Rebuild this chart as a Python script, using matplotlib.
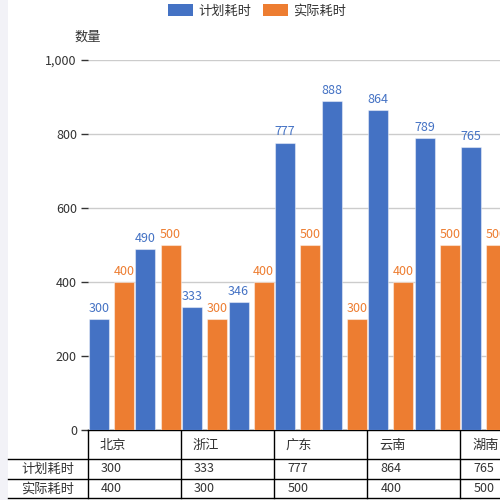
import matplotlib
matplotlib.use("Agg")
import matplotlib.pyplot as plt
from matplotlib.patches import Rectangle, Patch
from matplotlib.transforms import blended_transform_factory
from matplotlib.ticker import FuncFormatter

plt.rcParams['font.family'] = ['Noto Sans CJK SC', 'DejaVu Sans']

# --- data ---
series_names = ['计划耗时', '实际耗时']
plan_values = [300, 490, 333, 346, 777, 888, 864, 789, 765]
actual_values = [400, 500, 300, 400, 500, 300, 400, 500, 500]
table_categories = ['北京', '浙江', '广东', '云南', '湖南']
table_slots = [0, 2, 4, 6, 8]          # bar groups that the table columns start at
table_plan = [300, 333, 777, 864, 765]
table_actual = [400, 300, 500, 400, 500]
y_ticks = [0, 200, 400, 600, 800, 1000]

BLUE = '#4472C4'
ORANGE = '#ED7D31'
TEXT = '#333333'
CJK_SIZE = 9.5

W = H = 500
fig = plt.figure(figsize=(5, 5), dpi=100)
fig.patch.set_facecolor('#f2f2f7')
fig.add_artist(Rectangle((8 / W, 0), 1, 1, transform=fig.transFigure,
                         facecolor='white', edgecolor='none', zorder=-10))


def fy(py):
    """pixel y from top -> figure fraction"""
    return 1 - py / H


ax = fig.add_axes([88 / W, fy(430), 412 / W, 370 / H])
ax.set_facecolor('none')

x = list(range(len(plan_values)))
bw = 0.43
b1 = ax.bar([i + 0.02 for i in x], plan_values, width=bw, align='edge',
            color=BLUE, edgecolor=(1, 1, 1, 0.45), linewidth=0.8, zorder=3)
b2 = ax.bar([i + 0.56 for i in x], actual_values, width=bw, align='edge',
            color=ORANGE, edgecolor=(1, 1, 1, 0.45), linewidth=0.8, zorder=3)
ax.bar_label(b1, padding=3, color=BLUE, fontsize=9)
ax.bar_label(b2, padding=3, color=ORANGE, fontsize=9)

ax.set_xlim(0, 412 / 46.55)
ax.set_ylim(0, 1000)
ax.set_yticks(y_ticks)
ax.yaxis.set_major_formatter(FuncFormatter(lambda v, p: f'{int(v):,}'))
ax.tick_params(axis='y', length=5, width=1, color=TEXT, pad=3,
               labelsize=9, labelcolor=TEXT)
ax.tick_params(axis='x', bottom=False, labelbottom=False)
ax.grid(axis='y', color='#cccccc', linewidth=1, zorder=0)
for s in ['top', 'right', 'left']:
    ax.spines[s].set_visible(False)
ax.spines['bottom'].set_color('black')
ax.spines['bottom'].set_linewidth(1)

fig.text(88 / W, fy(37), '数量', ha='center', va='center', fontsize=CJK_SIZE, color=TEXT)

# --- data table under the axis ---
tr = blended_transform_factory(ax.transData, fig.transFigure)
lw = 1
for py in [459, 479, 498]:
    fig.add_artist(plt.Line2D([8 / W, 1], [fy(py), fy(py)], transform=fig.transFigure,
                              color='black', linewidth=lw))
for s in table_slots:
    ax.plot([s, s], [fy(430), fy(498)], transform=tr, color='black',
            linewidth=lw, clip_on=False)

row_y = [fy(445), fy(469), fy(489)]
for s, cat, pv, av in zip(table_slots, table_categories, table_plan, table_actual):
    ax.text(s + 0.25, row_y[0], cat, transform=tr, ha='left', va='center',
            fontsize=CJK_SIZE, color=TEXT, clip_on=False)
    ax.text(s + 0.28, row_y[1], str(pv), transform=tr, ha='left', va='center',
            fontsize=9, color=TEXT, clip_on=False)
    ax.text(s + 0.28, row_y[2], str(av), transform=tr, ha='left', va='center',
            fontsize=9, color=TEXT, clip_on=False)
fig.text(48 / W, row_y[1], series_names[0], ha='center', va='center', fontsize=CJK_SIZE, color=TEXT)
fig.text(48 / W, row_y[2], series_names[1], ha='center', va='center', fontsize=CJK_SIZE, color=TEXT)

# --- legend ---
handles = [Patch(facecolor=BLUE, edgecolor='none'), Patch(facecolor=ORANGE, edgecolor='none')]
fig.legend(handles, series_names, loc='center', bbox_to_anchor=(257 / W, fy(11)),
           ncol=2, frameon=False, fontsize=CJK_SIZE, handlelength=1.9, handleheight=1.05,
           handletextpad=0.4, columnspacing=0.9, labelcolor=TEXT)

fig.savefig('out.png', dpi=100, facecolor=fig.get_facecolor())
